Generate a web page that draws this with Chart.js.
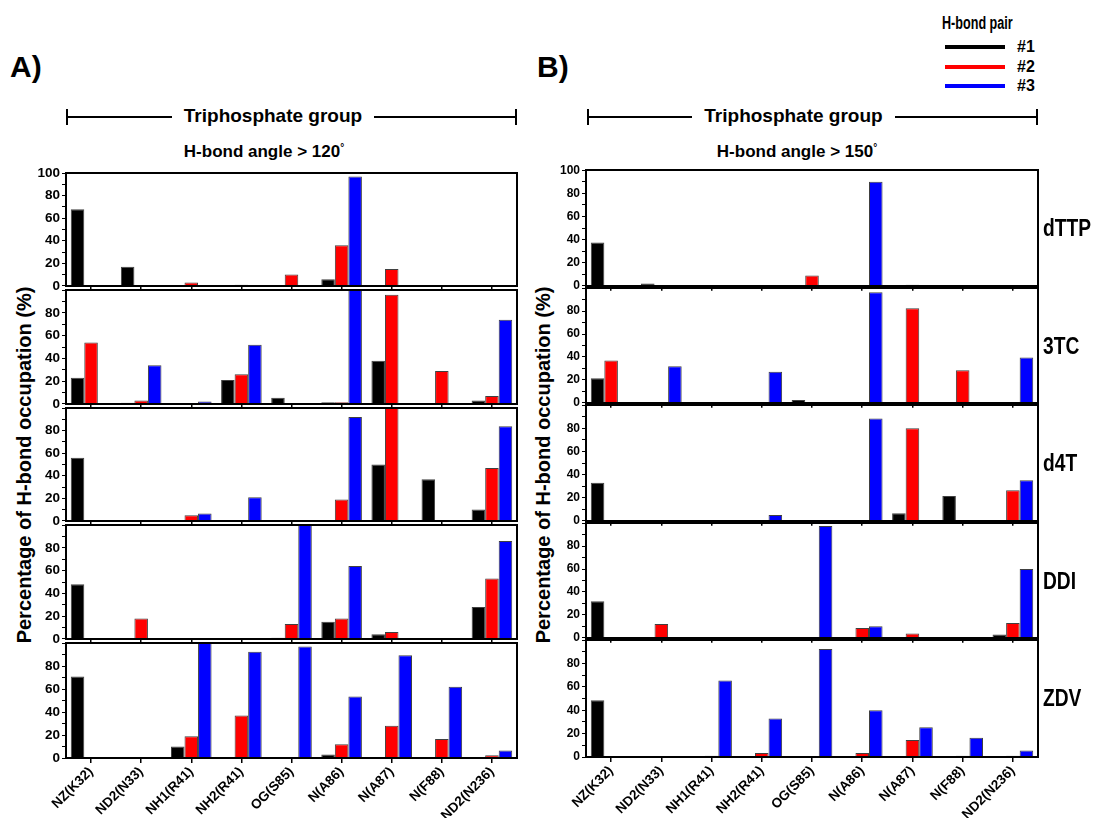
<!DOCTYPE html>
<html>
<head>
<meta charset="utf-8">
<script src="https://cdn.jsdelivr.net/npm/chart.js@4.4.0/dist/chart.umd.min.js"></script>
<style>
  body { margin: 0; background: #fff; width: 1097px; height: 818px; position: relative; overflow: hidden;
         font-family: "Liberation Sans", Arial, sans-serif; font-weight: bold; color: #000; }
  canvas { position: absolute; }
  .t { position: absolute; white-space: nowrap; line-height: 1; }
  .ln { position: absolute; background: #000; }
</style>
</head>
<body>

<div class="t" style="left:10px;top:52px;font-size:30px;">A)</div>
<div class="t" style="left:537px;top:52px;font-size:30px;">B)</div>

<!-- brackets -->
<div class="ln" style="left:66px;top:116px;width:451px;height:2px;"></div>
<div class="ln" style="left:66px;top:109px;width:2px;height:16px;"></div>
<div class="ln" style="left:515px;top:109px;width:2px;height:16px;"></div>
<div class="t" style="left:172px;top:106px;width:202px;text-align:center;background:#fff;font-size:19px;">Triphosphate group</div>

<div class="ln" style="left:587px;top:116px;width:451px;height:2px;"></div>
<div class="ln" style="left:587px;top:109px;width:2px;height:16px;"></div>
<div class="ln" style="left:1036px;top:109px;width:2px;height:16px;"></div>
<div class="t" style="left:692px;top:106px;width:203px;text-align:center;background:#fff;font-size:19px;">Triphosphate group</div>

<div class="t" style="left:164px;top:143px;width:200px;text-align:center;font-size:17px;">H-bond angle &gt; 120<span style="font-size:10px;vertical-align:top;">°</span></div>
<div class="t" style="left:697px;top:143px;width:200px;text-align:center;font-size:17px;">H-bond angle &gt; 150<span style="font-size:10px;vertical-align:top;">°</span></div>

<!-- legend -->
<div class="t" style="left:942px;top:14px;font-size:18px;transform:scaleX(0.7);transform-origin:left top;">H-bond pair</div>
<div class="ln" style="left:945px;top:45px;width:60px;height:4px;background:#000;"></div>
<div class="ln" style="left:945px;top:65px;width:60px;height:4px;background:#ff0000;"></div>
<div class="ln" style="left:945px;top:84px;width:60px;height:4px;background:#0000ff;"></div>
<div class="t" style="left:1017px;top:39px;font-size:16px;">#1</div>
<div class="t" style="left:1017px;top:59px;font-size:16px;">#2</div>
<div class="t" style="left:1017px;top:78px;font-size:16px;">#3</div>

<!-- y titles -->
<div class="t" style="left:24px;top:465px;font-size:20px;transform:translate(-50%,-50%) rotate(-90deg);">Percentage of H-bond occupation (%)</div>
<div class="t" style="left:543px;top:465px;font-size:20px;transform:translate(-50%,-50%) rotate(-90deg);">Percentage of H-bond occupation (%)</div>

<div id="charts"></div>

<script>
var categories = ['NZ(K32)', 'ND2(N33)', 'NH1(R41)', 'NH2(R41)', 'OG(S85)', 'N(A86)', 'N(A87)', 'N(F88)', 'ND2(N236)'];
var drugs = ['dTTP', '3TC', 'd4T', 'DDI', 'ZDV'];
var pairs = ['#1', '#2', '#3'];
var pairColors = ['#000000', '#ff0000', '#0000ff'];

// A) H-bond angle > 120 deg, rows = pair #1, #2, #3
var a120_dTTP = [
  [68, 17, 0, 0, 0, 6, 0, 0, 0],
  [0, 0, 3, 1, 10, 36, 15, 0, 0],
  [0, 0, 0, 0, 0, 97, 0, 0, 0]
];
var a120_3TC = [
  [23, 1, 0, 21, 5.5, 1.5, 38, 0, 3],
  [54, 3, 0.5, 26, 0, 1.5, 96, 29, 7],
  [0, 34, 2, 52, 0, 100, 0, 0, 74]
];
var a120_d4T = [
  [56, 0, 0, 0, 0.5, 0, 50, 37, 10],
  [0, 0, 5, 0.5, 0, 19, 100, 0, 47],
  [0, 0, 6.5, 21, 0, 92, 0, 0, 84]
];
var a120_DDI = [
  [48, 0, 0, 0, 1, 15, 4, 0, 28],
  [0, 18, 0, 0, 13, 18, 6, 0, 53],
  [0, 0, 0, 0, 100, 64, 0, 0, 86]
];
var a120_ZDV = [
  [71, 0, 10, 0, 0, 3, 0, 0, 0],
  [0, 0, 19, 37, 0, 12, 28, 16.5, 2.5],
  [0, 0, 100, 92.5, 97, 53.5, 89.5, 62, 6.5]
];

// B) H-bond angle > 150 deg
var a150_dTTP = [
  [37.5, 2, 0, 0, 0, 0, 0, 0, 0],
  [0, 0, 0, 0, 9, 0, 1, 0, 0],
  [0, 0, 0, 0, 0, 90, 0, 0, 0]
];
var a150_3TC = [
  [21.5, 0, 0, 0, 2.5, 0, 0, 0, 0],
  [37, 0, 0, 0, 0, 0, 82.5, 28.5, 0],
  [0, 32, 0, 27, 0, 96.5, 0, 0, 39.5]
];
var a150_d4T = [
  [33, 0, 0, 0, 0, 0, 6.5, 21.5, 0],
  [0, 0, 0, 0, 0, 0, 80, 0, 26.5],
  [0, 0, 0, 5, 0, 88.5, 0, 0, 35]
];
var a150_DDI = [
  [32, 0, 0, 0, 0, 0, 0, 0, 2.8],
  [0, 12, 0, 0, 0, 8.5, 3.7, 0, 13],
  [0, 0, 0, 0, 97.5, 10, 0, 0, 60]
];
var a150_ZDV = [
  [48.5, 0, 0, 0, 0, 0, 0, 0, 0],
  [0, 0, 1, 3.5, 0, 3.5, 14.5, 1, 1],
  [0, 0, 65.5, 33, 92.5, 40, 25.5, 16.5, 5.5]
];

var panelA = { rows: [a120_dTTP, a120_3TC, a120_d4T, a120_DDI, a120_ZDV],
  left: 66, right: 517, tops: [171, 288, 406, 523, 641], bottom: 758, tickSize: 13.5, label: false };
var panelB = { rows: [a150_dTTP, a150_3TC, a150_d4T, a150_DDI, a150_ZDV],
  left: 586, right: 1038, tops: [169, 287, 404, 522, 639], bottom: 757, tickSize: 12, label: true };

// box around each plot area
var framePlugin = {
  id: 'frame',
  afterDraw: function (chart) {
    var a = chart.chartArea, ctx = chart.ctx;
    ctx.save();
    ctx.strokeStyle = '#000';
    ctx.lineWidth = 2;
    ctx.strokeRect(Math.round(a.left), Math.round(a.top), Math.round(a.right - a.left), Math.round(a.bottom - a.top));
    ctx.restore();
  }
};

var holder = document.getElementById('charts');

function makeChart(panel, i) {
  var last = i === 4;
  var top = panel.tops[i];
  var bot = last ? panel.bottom : panel.tops[i + 1];
  var h = bot - top;
  var padTop = 8, axisH = last ? 70 : 8, yW = 44, padR = 6;
  var plotW = panel.right - panel.left;

  var cv = document.createElement('canvas');
  cv.width = yW + plotW + padR;
  cv.height = padTop + h + axisH;
  cv.style.left = (panel.left - yW) + 'px';
  cv.style.top = (top - padTop) + 'px';
  holder.appendChild(cv);

  var datasets = pairs.map(function (p, k) {
    return {
      label: p,
      data: panel.rows[i][k],
      backgroundColor: function (c) { return c.raw ? pairColors[k] : 'rgba(0,0,0,0)'; },
      borderColor: 'rgba(30,30,30,0.85)',
      borderWidth: function (c) { return c.raw ? 1 : 0; },
      inflateAmount: 0,
      categoryPercentage: 0.81,
      barPercentage: 1.0
    };
  });

  new Chart(cv, {
    type: 'bar',
    data: { labels: categories, datasets: datasets },
    options: {
      responsive: false,
      animation: false,
      devicePixelRatio: 1,
      layout: { padding: { top: padTop, right: padR, left: 0, bottom: 0 } },
      plugins: { legend: { display: false }, tooltip: { enabled: false } },
      scales: {
        x: {
          offset: true,
          grid: { offset: false, drawOnChartArea: false, drawTicks: true, tickLength: 5, color: '#000', lineWidth: 1.5 },
          border: { display: false },
          ticks: {
            display: last, autoSkip: false, maxRotation: 45, minRotation: 45, padding: 1,
            color: '#000', font: { family: 'Liberation Sans', weight: 'bold', size: 13.5 }
          },
          afterFit: function (s) { s.height = axisH; }
        },
        y: {
          min: 0, max: 100,
          grid: { drawOnChartArea: false, drawTicks: true, tickLength: 4, color: '#000', lineWidth: 1 },
          border: { display: false },
          ticks: {
            stepSize: 10, autoSkip: false, padding: 2, color: '#000',
            font: { family: 'Liberation Sans', weight: 'bold', size: panel.tickSize },
            callback: function (v) {
              if (v % 20 !== 0) return '';
              if (v === 100 && i !== 0) return '';
              return v;
            }
          },
          afterFit: function (s) { s.width = yW; }
        }
      }
    },
    plugins: [framePlugin]
  });

  if (panel.label) {
    var t = document.createElement('div');
    t.className = 't';
    t.style.left = (panel.right + 5) + 'px';
    t.style.top = (top + h / 2 - 12) + 'px';
    t.style.fontSize = '24px';
    t.style.transform = 'scaleX(0.8)';
    t.style.transformOrigin = 'left top';
    t.textContent = drugs[i];
    document.body.appendChild(t);
  }
}

for (var i = 0; i < 5; i++) {
  makeChart(panelA, i);
  makeChart(panelB, i);
}
</script>
</body>
</html>
